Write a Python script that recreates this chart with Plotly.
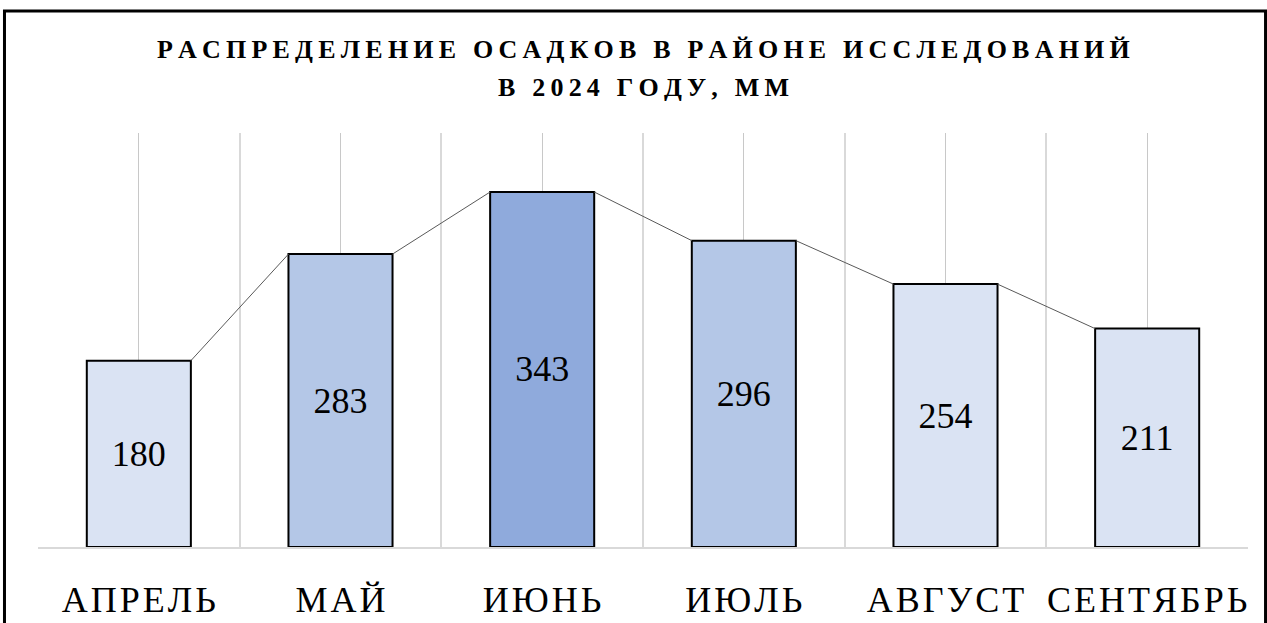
import plotly.graph_objects as go

months = ["АПРЕЛЬ", "МАЙ", "ИЮНЬ", "ИЮЛЬ", "АВГУСТ", "СЕНТЯБРЬ"]
precip = [180, 283, 343, 296, 254, 211]
bar_colors = ["#DAE3F3", "#B4C7E7", "#8FAADC", "#B4C7E7", "#DAE3F3", "#DAE3F3"]
title_lines = ["РАСПРЕДЕЛЕНИЕ ОСАДКОВ В РАЙОНЕ ИССЛЕДОВАНИЙ", "В 2024 ГОДУ, ММ"]

BAR_W = 0.516


def spaced(s, sp):
    return sp.join(list(s))


xs = list(range(len(months)))

fig = go.Figure()

# series lines connecting bar corners
lx, ly = [], []
for i in range(len(precip) - 1):
    lx += [xs[i] + BAR_W / 2, xs[i + 1] - BAR_W / 2, None]
    ly += [precip[i], precip[i + 1], None]
fig.add_trace(go.Scatter(x=lx, y=ly, mode="lines",
                         line=dict(color="#595959", width=1),
                         hoverinfo="skip", showlegend=False))

fig.add_trace(go.Bar(
    x=xs, y=precip, width=BAR_W,
    marker=dict(color=bar_colors, line=dict(color="#000000", width=2)),
    text=[str(v) for v in precip],
    textposition="inside", insidetextanchor="middle", textangle=0,
    constraintext="none",
    textfont=dict(family="Liberation Serif", size=36, color="#000000"),
    showlegend=False,
))

fig.update_layout(
    width=1267, height=623,
    margin=dict(l=38, r=19, t=133, b=76, autoexpand=False),
    paper_bgcolor="white", plot_bgcolor="white",
    font=dict(family="Liberation Serif", color="#000000"),
    xaxis=dict(
        range=[-0.5, 5.5], tickvals=xs,
        ticktext=[spaced(m, "\u200A") for m in months],
        tickfont=dict(family="Liberation Serif", size=36, color="#000000"),
        showgrid=True, gridcolor="#C8C8C8", gridwidth=1,
        minor=dict(tick0=-0.5, dtick=1, showgrid=True, gridcolor="#D9D9D9", gridwidth=2),
        showline=True, linecolor="#D9D9D9", linewidth=2,
        ticks="", ticklabelstandoff=20, zeroline=False, fixedrange=True,
        automargin=False,
    ),
    yaxis=dict(range=[0, 400], showgrid=False, showticklabels=False,
               zeroline=False, showline=False, fixedrange=True, automargin=False),
    annotations=[
        dict(text="<b>" + spaced(title_lines[0], "\u2009") + "</b>", xref="paper", yref="paper",
             x=0.5, y=1.2005, xanchor="center", yanchor="middle", showarrow=False,
             font=dict(family="Liberation Serif", size=26, color="#000000")),
        dict(text="<b>" + spaced(title_lines[1], "\u2009") + "</b>", xref="paper", yref="paper",
             x=0.5, y=1.111, xanchor="center", yanchor="middle", showarrow=False,
             font=dict(family="Liberation Serif", size=26, color="#000000")),
    ],
    shapes=[
        dict(type="rect", xref="paper", yref="paper",
             x0=-0.0277, x1=1.0145, y0=-0.25, y1=1.2947,
             line=dict(color="#000000", width=3), fillcolor="rgba(0,0,0,0)", layer="above"),
    ],
)

fig.write_html("out.html", config={"displayModeBar": False},
               post_script="document.body.style.margin='0';document.body.style.overflow='hidden';")
